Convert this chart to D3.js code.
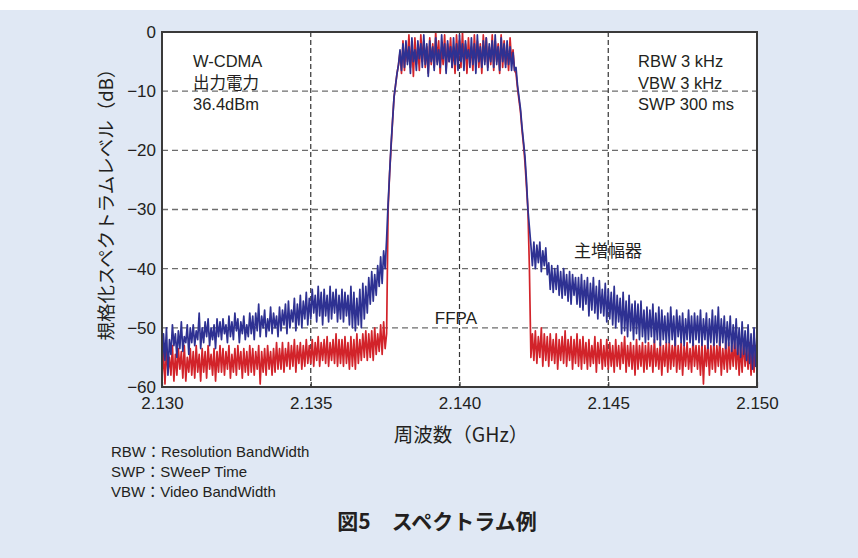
<!DOCTYPE html>
<html>
<head>
<meta charset="utf-8">
<script src="https://cdn.jsdelivr.net/npm/d3@7"></script>
<style>
  body { margin: 0; background: #fff; }
  text { fill: #231f20; }
</style>
</head>
<body>
<script>
// Sweep grid: 2.1300 GHz to 2.1500 GHz, one sample every 0.00005 GHz
var freqStart = 2.130;
var freqStep = 0.00005;

var xTicks = [2.130, 2.135, 2.140, 2.145, 2.150];
var yTicks = [0, -10, -20, -30, -40, -50, -60];

// Main amplifier (blue), dB (20 samples per 0.001 GHz)
var mainAmp = [
  -57, -51, -55.5, -50, -58, -52, -54.5, -49.5, -53, -51, -55, -50.5, -53.5, -49, -54, -51.5, -52.5, -49.5, -54.5, -50,
  -52.5, -49.5, -53, -50.5, -52, -47.5, -53.5, -50, -52.5, -49, -51.5, -48.5, -53, -50, -52, -49.5, -53.5, -48.5, -51.5, -49,
  -52, -48.5, -51, -49.5, -52.5, -48, -51.5, -49, -52, -47.5, -50.5, -48.5, -52.5, -49, -51, -48, -52, -49.5, -51.5, -47.5,
  -51, -48, -52, -47.5, -50.5, -46, -51.5, -48, -50, -47, -51.5, -48.5, -50.5, -46.5, -51, -47.5, -50, -48, -51.5, -46.5,
  -50.5, -47, -49.5, -46, -51, -45.5, -50, -47, -49, -45, -50.5, -46, -49.5, -44.5, -50, -45.5, -48.5, -44, -49.5, -45,
  -48.5, -43.5, -47.5, -44.5, -49, -43, -48, -44, -49.5, -43.5, -48, -44.5, -49, -43, -48.5, -44, -47.5, -43.5, -49, -44.5,
  -48.5, -43.5, -49, -44, -48, -44.5, -49.5, -43, -50, -44, -50.5, -45, -49.5, -43.5, -50, -42.5, -48.5, -43, -47.5, -41.5,
  -46, -40.5, -45.5, -41, -44.5, -39.5, -43, -38, -42.5, -37, -40, -35, -29, -24, -19, -15, -11, -9, -7, -5.5,
  -3, -6.5, -2, -6, -1.5, -5.5, -2.5, -7, -1, -5, -3, -6.5, -1.5, -4.5, -2, -6, -0.5, -5.5, -2, -7.5,
  -1.5, -5, -2.5, -6.5, -1, -5.5, -3, -6, -0.5, -4.5, -2, -7, -1.5, -5, -2.5, -6, -1, -5.5, -2, -6.5,
  -0.5, -5, -2, -6.5, -1.5, -4.5, -3, -6, -1, -5.5, -2, -7, -0.5, -5, -2.5, -6, -1.5, -5.5, -1, -6.5,
  -2, -5, -1.5, -6, -0.5, -5.5, -2.5, -6.5, -1, -5, -2, -6, -1.5, -5.5, -2.5, -6.5, -3.5, -6.5, -6, -9,
  -11, -13, -16, -18.5, -21, -25, -30, -33, -36, -39.5, -35.5, -40, -36, -39, -35.5, -40.5, -37, -39.5, -36.5, -41,
  -39, -43.5, -39.5, -44, -40, -43.5, -39.5, -44.5, -40.5, -45, -40, -44.5, -41, -45.5, -40.5, -46, -41, -44.5, -41.5, -46,
  -41.5, -46.5, -41, -47, -42, -46, -41.5, -48, -42.5, -47, -41.5, -47.5, -43, -48.5, -42, -47.5, -43.5, -48, -42.5, -49,
  -43.5, -48.5, -44, -49.5, -43, -50, -44.5, -49, -45, -51, -44, -50.5, -45.5, -51.5, -44.5, -50.5, -46, -52, -45.5, -51,
  -46, -52, -45.5, -51.5, -47, -52.5, -46.5, -52, -47, -51.5, -46, -52.5, -47.5, -52, -46.5, -53, -47, -52, -48, -52.5,
  -47.5, -52.5, -46.5, -52, -48, -53, -47, -51.5, -48, -52.5, -47.5, -53, -48.5, -52, -47, -52.5, -48, -53, -47.5, -52,
  -48, -52.5, -47, -53, -48.5, -52, -47.5, -53.5, -48.5, -52.5, -47, -53, -48, -52.5, -46.5, -53, -48.5, -52.5, -48, -53.5,
  -49, -53, -48, -54, -49.5, -53.5, -48.5, -54.5, -50, -55, -49, -54.5, -50.5, -55.5, -49.5, -56, -51, -57, -50, -56.5,
  -51
];

// FFPA (red), dB
var ffpa = [
  -58.5, -54, -59.5, -53.5, -57.5, -55, -58, -53, -59, -54.5, -58, -53.5, -57, -54, -58.5, -53, -59, -55, -57.5, -53.5,
  -58, -54, -58.5, -53, -57.5, -54.5, -59, -53.5, -57.5, -54, -58.5, -53, -57, -54.5, -58, -53.5, -59, -54, -57.5, -53,
  -57.5, -53.5, -58, -54, -57, -53, -58.5, -54.5, -57.5, -53.5, -58, -53, -57, -54, -58.5, -53.5, -57.5, -54, -58, -53,
  -57.5, -53.5, -58, -54, -57, -53, -59.5, -54, -57.5, -53.5, -58, -53, -57, -54, -58, -53.5, -57.5, -52.5, -57, -53.5,
  -57, -52.5, -57.5, -53.5, -56.5, -52.5, -57, -53, -56.5, -52, -57.5, -53, -56, -52.5, -57, -53, -56.5, -52, -56, -53,
  -56, -52, -56.5, -52.5, -55.5, -51.5, -56.5, -52.5, -55.5, -52, -56, -51.5, -56.5, -52.5, -55.5, -52, -56, -51, -56.5, -52,
  -56, -52, -56.5, -51.5, -56, -52.5, -57, -51.5, -56.5, -52, -57, -51, -56, -52, -55.5, -51, -55, -50.5, -55.5, -51,
  -55, -50.5, -55.5, -50, -54.5, -51, -54, -49.5, -54.5, -49, -53.5, -51, -30, -24, -19.5, -15, -11, -9, -7, -5.5,
  -3.5, -7, -1.5, -6.5, -2.5, -5, -0.5, -6, -2, -7.5, -1, -5.5, -2.5, -6.5, -0.5, -5, -1.5, -6, -2.5, -7,
  -1, -5.5, -2, -6, 0, -5, -1.5, -7, -2.5, -5.5, -0.5, -6.5, -2, -5, -1, -6, -2.5, -7, -0.5, -5,
  -1.5, -6, 0, -5.5, -2, -7, -1, -5, -2.5, -6.5, -0.5, -5.5, -1.5, -6, -2, -7, -0.5, -5, -1, -6,
  -2.5, -5.5, -0.5, -6.5, -1.5, -5, -2, -7, -0.5, -6, -1.5, -5.5, -2.5, -6.5, -1, -5, -3, -6.5, -7, -9.5,
  -11.5, -13.5, -16.5, -19, -22, -26, -30, -40, -55, -51, -55.5, -50.5, -56, -51.5, -55, -50, -56.5, -51, -55.5, -51.5,
  -56.5, -51, -55.5, -52, -56, -51, -57, -52, -55.5, -51.5, -56, -50.5, -56.5, -52, -55.5, -51.5, -57, -52, -56, -51,
  -56.5, -52, -57, -51.5, -56, -52.5, -57, -52, -56.5, -53, -56, -51.5, -57.5, -52.5, -56, -52, -57, -53, -56.5, -52,
  -57, -52.5, -56.5, -53, -57.5, -52, -56.5, -53, -57, -52.5, -56, -51.5, -57.5, -53, -56.5, -52.5, -57, -53, -58, -52,
  -57, -53, -56.5, -52.5, -57.5, -53, -57, -52.5, -56.5, -53, -57.5, -52, -56.5, -53.5, -57, -52.5, -58, -53, -56.5, -52.5,
  -57.5, -52.5, -57, -53, -56.5, -52, -57.5, -53, -57, -52.5, -58, -53, -56.5, -52.5, -57, -53.5, -57.5, -52, -56.5, -53,
  -57, -53, -58, -52.5, -59.5, -53, -56.5, -52.5, -58, -53, -57, -52.5, -57.5, -53, -56.5, -52, -58, -53.5, -57, -52.5,
  -57.5, -52.5, -57, -53, -56.5, -52, -57, -52.5, -58, -53, -57.5, -52, -56.5, -53.5, -57, -52.5, -58, -53, -57.5, -53,
  -55
];

var noteLeft = ["W-CDMA", "出力電力", "36.4dBm"];
var noteRight = ["RBW 3 kHz", "VBW 3 kHz", "SWP 300 ms"];
var footnotes = ["RBW：Resolution BandWidth", "SWP：SWeeP Time", "VBW：Video BandWidth"];

var svgWidth = 858;
var svgHeight = 558;

var margin = { top: 32, right: 101, bottom: 171, left: 162 };
var width = svgWidth - margin.left - margin.right;
var height = svgHeight - margin.top - margin.bottom;

var latin = "'Liberation Sans', Arial, 'Noto Sans CJK JP', sans-serif";
var cjk = "'Noto Sans CJK JP', 'Liberation Sans', sans-serif";

var svg = d3.select("body")
  .append("svg")
  .attr("width", svgWidth)
  .attr("height", svgHeight);

// light blue panel
svg.append("rect")
  .attr("x", 0).attr("y", 10)
  .attr("width", svgWidth).attr("height", svgHeight - 10)
  .attr("fill", "#e0e8f4");

var chartGroup = svg.append("g")
  .attr("transform", `translate(${margin.left}, ${margin.top})`);

var xScale = d3.scaleLinear().domain([2.130, 2.150]).range([0, width]);
var yScale = d3.scaleLinear().domain([-60, 0]).range([height, 0]);

chartGroup.append("rect")
  .attr("width", width).attr("height", height)
  .attr("fill", "#fff");

chartGroup.append("clipPath").attr("id", "plotclip")
  .append("rect").attr("width", width).attr("height", height);

// grid
chartGroup.append("g").selectAll("line")
  .data(yTicks.filter(d => d > -60 && d < 0))
  .enter().append("line")
  .attr("x1", 0).attr("x2", width)
  .attr("y1", d => yScale(d)).attr("y2", d => yScale(d))
  .attr("stroke", "#6d6d6d")
  .attr("stroke-width", 1.3)
  .attr("stroke-dasharray", "6,4");

chartGroup.append("g").selectAll("line")
  .data(xTicks.slice(1, -1))
  .enter().append("line")
  .attr("y1", 0).attr("y2", height)
  .attr("x1", d => xScale(d)).attr("x2", d => xScale(d))
  .attr("stroke", "#333")
  .attr("stroke-width", 1.2)
  .attr("stroke-dasharray", "5,3");

// traces
var line = d3.line()
  .x((d, i) => xScale(freqStart + i * freqStep))
  .y(d => yScale(d));

var traces = chartGroup.append("g").attr("clip-path", "url(#plotclip)");

traces.append("path")
  .datum(ffpa)
  .attr("d", line)
  .attr("fill", "none")
  .attr("stroke", "#d2232a")
  .attr("stroke-width", 1.7)
  .attr("stroke-linejoin", "round");

traces.append("path")
  .datum(mainAmp)
  .attr("d", line)
  .attr("fill", "none")
  .attr("stroke", "#2e3192")
  .attr("stroke-width", 1.7)
  .attr("stroke-linejoin", "round");

// axes
var bottomAxis = d3.axisBottom(xScale)
  .tickValues(xTicks)
  .tickFormat(d3.format(".3f"))
  .tickSizeInner(-5).tickSizeOuter(0).tickPadding(10);

var leftAxis = d3.axisLeft(yScale)
  .tickValues(yTicks)
  .tickFormat(d => d === 0 ? "0" : "−" + Math.abs(d))
  .tickSizeInner(0).tickSizeOuter(0).tickPadding(6);

var xAxisG = chartGroup.append("g")
  .attr("transform", `translate(0,${height})`)
  .call(bottomAxis);

var yAxisG = chartGroup.append("g").call(leftAxis);

[xAxisG, yAxisG].forEach(function(g) {
  g.select(".domain").remove();
  g.selectAll("line").attr("stroke", "#333").attr("stroke-width", 1.2);
  g.selectAll("text")
    .style("font-family", latin)
    .style("font-size", "17px")
    .attr("fill", "#231f20");
});

// frame
chartGroup.append("rect")
  .attr("width", width).attr("height", height)
  .attr("fill", "none")
  .attr("stroke", "#3a3a3a")
  .attr("stroke-width", 2);

// notes inside the plot
chartGroup.append("g").selectAll("text")
  .data(noteLeft).enter().append("text")
  .attr("x", 31)
  .attr("y", (d, i) => 35 + i * 21.7)
  .style("font-family", latin)
  .style("font-size", "16.5px")
  .text(d => d);

chartGroup.append("g").selectAll("text")
  .data(noteRight).enter().append("text")
  .attr("x", 476)
  .attr("y", (d, i) => 35 + i * 21.7)
  .style("font-family", latin)
  .style("font-size", "16.5px")
  .text(d => d);

chartGroup.append("text")
  .attr("x", xScale(2.13988))
  .attr("y", yScale(-49.4))
  .attr("text-anchor", "middle")
  .style("font-family", latin)
  .style("font-size", "17px")
  .text("FFPA");

chartGroup.append("text")
  .attr("x", xScale(2.14499))
  .attr("y", yScale(-38.1))
  .attr("text-anchor", "middle")
  .style("font-family", cjk)
  .style("font-size", "17px")
  .text("主増幅器");

// axis titles
svg.append("text")
  .attr("transform", "translate(113, 200) rotate(-90)")
  .attr("text-anchor", "middle")
  .style("font-family", cjk)
  .style("font-size", "18.5px")
  .text("規格化スペクトラムレベル（dB）");

svg.append("text")
  .attr("x", 461)
  .attr("y", 442)
  .attr("text-anchor", "middle")
  .style("font-family", cjk)
  .style("font-size", "19.5px")
  .text("周波数（GHz）");

// footnotes
svg.append("g").selectAll("text")
  .data(footnotes).enter().append("text")
  .attr("x", 111)
  .attr("y", (d, i) => 457 + i * 20)
  .style("font-family", latin)
  .style("font-size", "15px")
  .text(d => d);

// caption
svg.append("text")
  .attr("x", 437)
  .attr("y", 529)
  .attr("text-anchor", "middle")
  .style("font-family", cjk)
  .style("font-size", "21px")
  .style("font-weight", "bold")
  .text("図5　スペクトラム例");
</script>
</body>
</html>
